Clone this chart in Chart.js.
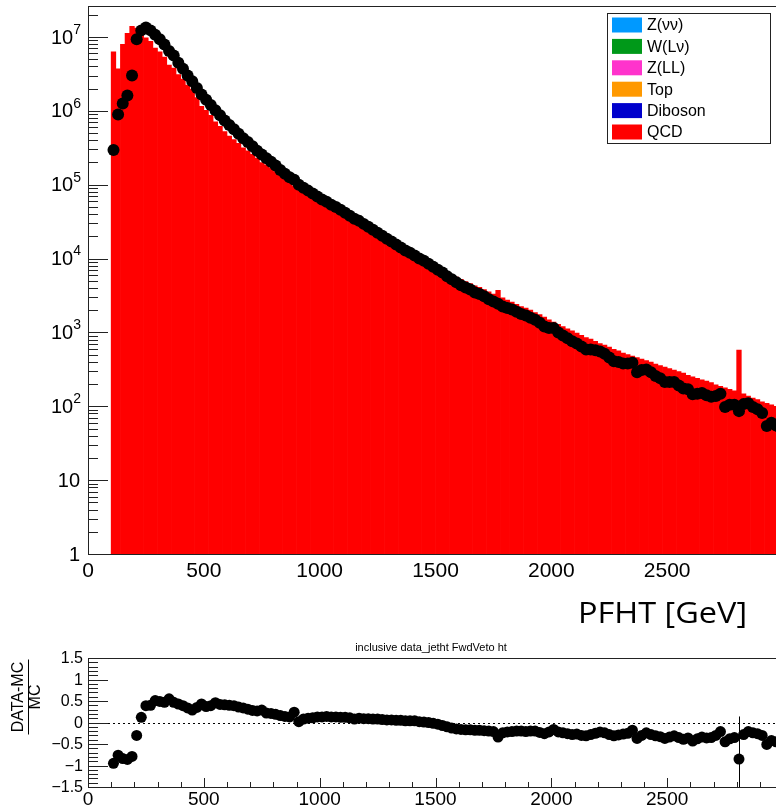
<!DOCTYPE html>
<html>
<head>
<meta charset="utf-8">
<script src="https://cdn.jsdelivr.net/npm/chart.js@4.4.1/dist/chart.umd.min.js"></script>
<style>
  html, body { margin: 0; padding: 0; background: #fff; overflow: hidden; width: 776px; height: 808px; }
  canvas { position: absolute; left: 0; }
  #top { top: 0; }
  #ratio { top: 640px; }
</style>
</head>
<body>
<canvas id="top" width="800" height="640"></canvas>
<canvas id="ratio" width="800" height="168"></canvas>
<script>
'use strict';

// 20 GeV bins from 100 to 3000 GeV (bin centres)
const binCenters = Array.from({ length: 145 }, (_, i) => 110 + 20 * i);

const dataCounts = [
  2.95e5, 8.9e5, 1.26e6, 1.62e6, 3.02e6, 9.33e6, 1.23e7, 1.35e7, 1.23e7, 1.07e7,
  9.33e6, 7.94e6, 6.46e6, 5.62e6, 4.47e6, 3.72e6, 3.02e6, 2.51e6, 2.04e6, 1.66e6,
  1.41e6, 1.20e6, 1.02e6, 8.71e5, 7.41e5, 6.46e5, 5.62e5, 4.90e5, 4.27e5, 3.80e5,
  3.31e5, 2.88e5, 2.57e5, 2.29e5, 2.04e5, 1.82e5, 1.58e5, 1.41e5, 1.26e5, 1.17e5,
  1.00e5, 9.12e4, 8.32e4, 7.59e4, 6.92e4, 6.31e4, 5.89e4, 5.37e4, 5.01e4, 4.57e4,
  4.17e4, 3.80e4, 3.47e4, 3.24e4, 2.95e4, 2.69e4, 2.45e4, 2.24e4, 2.04e4, 1.86e4,
  1.70e4, 1.55e4, 1.41e4, 1.29e4, 1.20e4, 1.10e4, 1.00e4, 9.33e3, 8.51e3, 7.76e3,
  7.08e3, 6.46e3, 5.75e3, 5.25e3, 4.79e3, 4.37e3, 4.07e3, 3.80e3, 3.47e3, 3.31e3,
  3.09e3, 2.82e3, 2.63e3, 2.45e3, 2.24e3, 2.14e3, 2.04e3, 1.91e3, 1.78e3, 1.70e3,
  1.58e3, 1.48e3, 1.35e3, 1.20e3, 1.15e3, 1.15e3, 1.00e3, 912, 832, 759,
  708, 646, 589, 589, 575, 550, 513, 457, 407, 398,
  380, 380, 389, 288, 309, 316, 288, 257, 240, 214,
  214, 214, 191, 174, 170, 145, 148, 151, 141, 135,
  138, 148, 98, 105, 105, 86, 107, 110, 98, 91,
  81, 54, 60, 55, 50
];

const qcdCounts = [
  6.3e6, 3.72e6, 7.94e6, 1.12e7, 1.40e7, 1.32e7, 1.10e7, 9.77e6, 8.71e6, 7.08e6,
  6.31e6, 5.37e6, 4.17e6, 3.80e6, 3.09e6, 2.69e6, 2.24e6, 1.95e6, 1.51e6, 1.15e6,
  1.02e6, 8.71e5, 7.08e5, 6.17e5, 5.25e5, 4.57e5, 4.07e5, 3.63e5, 3.16e5, 2.88e5,
  2.57e5, 2.29e5, 2.00e5, 1.86e5, 1.70e5, 1.51e5, 1.38e5, 1.23e5, 1.12e5, 9.55e4,
  9.77e4, 8.51e4, 7.59e4, 6.76e4, 6.17e4, 5.62e4, 5.13e4, 4.79e4, 4.47e4, 4.07e4,
  3.72e4, 3.39e4, 3.24e4, 2.95e4, 2.69e4, 2.45e4, 2.29e4, 2.09e4, 1.91e4, 1.74e4,
  1.58e4, 1.48e4, 1.35e4, 1.23e4, 1.15e4, 1.05e4, 9.77e3, 9.24e3, 8.51e3, 7.94e3,
  7.41e3, 6.92e3, 6.46e3, 6.03e3, 5.62e3, 5.25e3, 4.90e3, 4.57e3, 4.27e3, 4.07e3,
  3.80e3, 3.55e3, 3.31e3, 3.72e3, 2.95e3, 2.75e3, 2.57e3, 2.40e3, 2.24e3, 2.14e3,
  2.00e3, 1.86e3, 1.74e3, 1.62e3, 1.48e3, 1.38e3, 1.29e3, 1.20e3, 1.12e3, 1.05e3,
  977, 912, 851, 813, 759, 708, 676, 631, 589, 562,
  525, 501, 479, 457, 437, 417, 398, 372, 355, 339,
  324, 309, 295, 282, 263, 251, 240, 229, 219, 209,
  195, 186, 178, 170, 162, 575, 148, 138, 129, 123,
  115, 110, 105, 100, 95
];

// (DATA-MC)/MC as drawn in the lower pad
const ratioValues = [
  -0.95, -0.76, -0.84, -0.86, -0.79, -0.30, 0.12, 0.39, 0.40, 0.51,
  0.49, 0.47, 0.55, 0.47, 0.43, 0.39, 0.34, 0.29, 0.35, 0.43,
  0.37, 0.39, 0.46, 0.42, 0.41, 0.40, 0.39, 0.36, 0.34, 0.31,
  0.28, 0.27, 0.29, 0.22, 0.21, 0.19, 0.16, 0.14, 0.13, 0.24,
  0.02, 0.08, 0.10, 0.11, 0.13, 0.13, 0.14, 0.13, 0.13, 0.12,
  0.12, 0.11, 0.08, 0.10, 0.09, 0.09, 0.08, 0.08, 0.07, 0.06,
  0.06, 0.05, 0.05, 0.04, 0.04, 0.04, 0.02, 0.01, 0.00, -0.02,
  -0.04, -0.07, -0.10, -0.13, -0.15, -0.16, -0.17, -0.17, -0.18, -0.18,
  -0.19, -0.20, -0.21, -0.34, -0.24, -0.22, -0.21, -0.20, -0.20, -0.21,
  -0.20, -0.20, -0.23, -0.26, -0.22, -0.16, -0.22, -0.24, -0.26, -0.28,
  -0.27, -0.30, -0.31, -0.28, -0.25, -0.22, -0.24, -0.28, -0.31, -0.29,
  -0.27, -0.25, -0.18, -0.37, -0.30, -0.24, -0.28, -0.31, -0.33, -0.37,
  -0.34, -0.31, -0.35, -0.39, -0.36, -0.43, -0.38, -0.34, -0.36, -0.35,
  -0.30, -0.21, -0.45, -0.38, -0.35, -0.85, -0.28, -0.21, -0.24, -0.26,
  -0.30, -0.51, -0.42, -0.45, -0.47
];

// only visible error bar in the ratio pad
const ratioErrBins = [2810];
const ratioErrSizes = [0.99];

const legendLabels = ['Z(\u03bd\u03bd)', 'W(L\u03bd)', 'Z(LL)', 'Top', 'Diboson', 'QCD'];
const legendColors = ['#0099ff', '#009919', '#ff33cc', '#ff9900', '#0000cc', '#ff0000'];

const xTickValues = [0, 500, 1000, 1500, 2000, 2500];
const ratioTickValues = [1.5, 1, 0.5, 0, -0.5, -1, -1.5];

const FONT = '"Liberation Sans", Arial, Helvetica, sans-serif';

function hline(ctx, x0, x1, y) {
  ctx.beginPath(); ctx.moveTo(x0, y); ctx.lineTo(x1, y); ctx.stroke();
}
function vline(ctx, x, y0, y1) {
  ctx.beginPath(); ctx.moveTo(x, y0); ctx.lineTo(x, y1); ctx.stroke();
}

const topDecor = {
  id: 'topDecor',
  afterDraw(chart) {
    const { ctx, chartArea: a, scales: { x, y } } = chart;
    ctx.save();
    ctx.strokeStyle = '#222';
    ctx.lineWidth = 1;
    ctx.strokeRect(a.left + 0.5, a.top + 0.5, a.right - a.left, a.bottom - a.top);

    // log ticks, drawn inwards
    for (let k = 0; k <= 7; k++) {
      for (let m = 1; m <= 9; m++) {
        const v = m * Math.pow(10, k);
        if (v > y.max) break;
        const py = Math.round(y.getPixelForValue(v)) + 0.5;
        hline(ctx, a.left, a.left + (m === 1 ? 20 : 10), py);
      }
    }

    // y labels 1, 10, 10^2 ...
    ctx.fillStyle = '#000';
    ctx.textBaseline = 'middle';
    ctx.textAlign = 'right';
    for (let k = 0; k <= 7; k++) {
      const py = y.getPixelForValue(Math.pow(10, k));
      ctx.font = '20px ' + FONT;
      if (k < 2) {
        ctx.fillText(k === 0 ? '1' : '10', 80, py + 1);
      } else {
        ctx.font = '14px ' + FONT;
        const sup = String(k);
        const w = ctx.measureText(sup).width;
        ctx.fillText(sup, 81, py - 7);
        ctx.font = '20px ' + FONT;
        ctx.fillText('10', 81 - w, py + 1);
      }
    }

    // x labels
    ctx.textAlign = 'center';
    ctx.textBaseline = 'top';
    ctx.font = '21px ' + FONT;
    xTickValues.forEach(v => ctx.fillText(String(v), x.getPixelForValue(v), 561));

    // x title, stretched to the width it has in the original
    ctx.textAlign = 'left';
    ctx.textBaseline = 'alphabetic';
    ctx.font = '29px "Open Sans", sans-serif';
    const title = 'PFHT [GeV]';
    const tw = ctx.measureText(title).width;
    ctx.save();
    ctx.translate(578, 623);
    ctx.scale(169 / tw, 1);
    ctx.fillText(title, 0, 0);
    ctx.restore();

    // legend box
    ctx.fillStyle = '#fff';
    ctx.fillRect(607, 13, 163, 130);
    ctx.strokeStyle = '#222';
    ctx.strokeRect(607.5, 13.5, 163, 130);
    ctx.font = '16px ' + FONT;
    ctx.textAlign = 'left';
    ctx.textBaseline = 'middle';
    legendLabels.forEach((lab, i) => {
      const cy = 25 + i * 21.4;
      ctx.fillStyle = legendColors[i];
      ctx.fillRect(612, cy - 7.5, 30, 15);
      ctx.fillStyle = '#000';
      ctx.fillText(lab, 647, cy + 1);
    });
    ctx.restore();
  }
};

const ratioDecor = {
  id: 'ratioDecor',
  beforeDatasetsDraw(chart) {
    const { ctx, chartArea: a, scales: { x, y } } = chart;
    ctx.save();
    ctx.strokeStyle = '#000';
    ctx.lineWidth = 1;
    ctx.setLineDash([2, 3]);
    hline(ctx, a.left, a.right, Math.round(y.getPixelForValue(0)) + 0.5);
    ctx.setLineDash([]);
    ctx.beginPath();
    ctx.rect(a.left, a.top, a.right - a.left, a.bottom - a.top);
    ctx.clip();
    ratioErrBins.forEach((b, i) => {
      const idx = binCenters.indexOf(b);
      const r = ratioValues[idx];
      const px = Math.round(x.getPixelForValue(b)) + 0.5;
      vline(ctx, px, y.getPixelForValue(r + ratioErrSizes[i]), y.getPixelForValue(r - ratioErrSizes[i]));
    });
    ctx.restore();
  },
  afterDraw(chart) {
    const { ctx, chartArea: a, scales: { x, y } } = chart;
    ctx.save();
    ctx.strokeStyle = '#222';
    ctx.lineWidth = 1;
    ctx.strokeRect(a.left + 0.5, a.top + 0.5, a.right - a.left, a.bottom - a.top);

    for (let i = -15; i <= 15; i++) {
      const py = Math.round(y.getPixelForValue(i / 10)) + 0.5;
      hline(ctx, a.left, a.left + (i % 5 === 0 ? 20 : 10), py);
    }
    for (let v = 0; v <= 3000; v += 100) {
      const px = Math.round(x.getPixelForValue(v)) + 0.5;
      vline(ctx, px, a.bottom, a.bottom - (v % 500 === 0 ? 9 : 5));
    }

    ctx.fillStyle = '#000';
    ctx.font = '16px ' + FONT;
    ctx.textAlign = 'right';
    ctx.textBaseline = 'middle';
    ratioTickValues.forEach(v => {
      const s = (v < 0 ? '\u2212' : '') + String(Math.abs(v));
      ctx.fillText(s, 83, y.getPixelForValue(v) + 1);
    });

    ctx.textAlign = 'center';
    ctx.textBaseline = 'top';
    ctx.font = '19px ' + FONT;
    xTickValues.forEach(v => ctx.fillText(String(v), x.getPixelForValue(v), 150));

    ctx.font = '11px ' + FONT;
    ctx.textBaseline = 'middle';
    ctx.fillText('inclusive data_jetht FwdVeto ht', 431, 8);

    // y title: (DATA-MC)/MC as a fraction, rotated
    ctx.translate(0, 57);
    ctx.rotate(-Math.PI / 2);
    ctx.font = '16px ' + FONT;
    ctx.textAlign = 'center';
    ctx.textBaseline = 'middle';
    ctx.fillText('DATA-MC', 0, 19);
    ctx.fillText('MC', 0, 36);
    ctx.strokeStyle = '#000';
    hline(ctx, -37.5, 37.5, 28.5);
    ctx.restore();
  }
};

new Chart(document.getElementById('top'), {
  type: 'bar',
  data: {
    datasets: [
      {
        type: 'scatter',
        label: 'Data',
        data: binCenters.map((c, i) => ({ x: c, y: dataCounts[i] })),
        pointRadius: 6,
        pointBackgroundColor: '#000',
        pointBorderWidth: 0,
        order: 0
      },
      {
        label: 'QCD',
        data: binCenters.map((c, i) => ({ x: c, y: qcdCounts[i] })),
        backgroundColor: '#ff0000',
        borderWidth: 0,
        barPercentage: 1,
        categoryPercentage: 1,
        order: 1
      }
    ]
  },
  options: {
    responsive: false,
    animation: false,
    devicePixelRatio: 1,
    layout: { padding: { left: 88, right: 17, top: 6, bottom: 86 } },
    plugins: { legend: { display: false }, tooltip: { enabled: false } },
    scales: {
      x: { type: 'linear', min: 0, max: 3000, offset: false, display: false },
      y: { type: 'logarithmic', min: 1, max: 2.63e7, display: false }
    }
  },
  plugins: [topDecor]
});

new Chart(document.getElementById('ratio'), {
  type: 'scatter',
  data: {
    datasets: [{
      label: 'ratio',
      data: binCenters.map((c, i) => ({ x: c, y: ratioValues[i] })),
      pointRadius: 5.5,
      pointBackgroundColor: '#000',
      pointBorderWidth: 0
    }]
  },
  options: {
    responsive: false,
    animation: false,
    devicePixelRatio: 1,
    layout: { padding: { left: 88, right: 17, top: 18, bottom: 21 } },
    plugins: { legend: { display: false }, tooltip: { enabled: false } },
    scales: {
      x: { type: 'linear', min: 0, max: 3000, display: false },
      y: { type: 'linear', min: -1.5, max: 1.5, display: false }
    }
  },
  plugins: [ratioDecor]
});
</script>
</body>
</html>
